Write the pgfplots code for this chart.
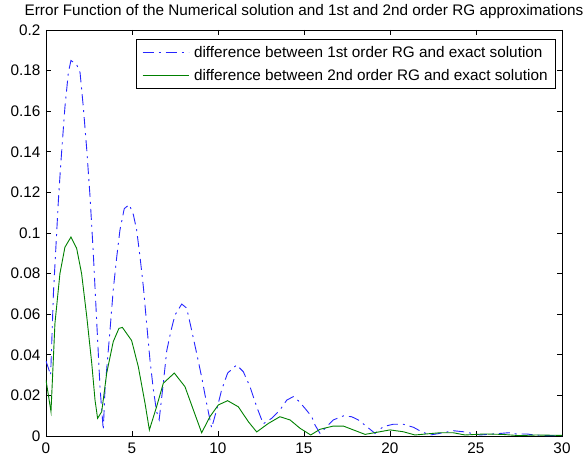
\documentclass[border=0pt]{standalone}
\usepackage{fontspec}
\setmainfont{Liberation Sans}
\usepackage{pgfplots}
\pgfplotsset{compat=1.18}
\definecolor{mblue}{rgb}{0.15,0.15,1}
\definecolor{mgreen}{rgb}{0,0.5,0}
\begin{document}
\begin{tikzpicture}[font=\fontsize{15.3}{18}\selectfont]
\path[use as bounding box] (-46pt,-25pt) rectangle (540pt,436pt);
\begin{axis}[
  scale only axis, width=516pt, height=406pt,
  xmin=0, xmax=30, ymin=0, ymax=0.2,
  xtick={0,5,10,15,20,25,30},
  xticklabels={0,5,10,15,20,25,30},
  ytick={0,0.02,0.04,0.06,0.08,0.1,0.12,0.14,0.16,0.18,0.2},
  yticklabels={0,0.02,0.04,0.06,0.08,0.1,0.12,0.14,0.16,0.18,0.2},
  tick align=inside, major tick length=5pt,
  axis line style={line width=0.8pt},
  every tick/.style={black, line width=0.8pt},
  yticklabel style={xshift=-2pt},
  xticklabel style={yshift=-3pt},
  title={Error Function of the Numerical solution and 1st and 2nd order RG approximations},
  title style={at={(0.5,1)}, anchor=base, yshift=8pt, inner sep=0pt},
  legend cell align=left,
  legend image code/.code={\draw[#1] (0pt,0pt) -- (46pt,0pt);},
  legend style={at={(1,1)}, anchor=north east, xshift=-6pt, yshift=-9pt,
    draw=black, line width=0.8pt, inner xsep=6pt, inner ysep=5pt,
    column sep=3pt, row sep=6pt},
]
\addplot[mblue, line width=0.9pt, dash pattern=on 11pt off 5pt on 2pt off 5pt] coordinates {
(0,0.037) (0.27,0.030) (0.43,0.070) (0.72,0.116) (0.85,0.133) (0.97,0.147) (1.1,0.162) (1.3,0.179) (1.45,0.185) (1.78,0.183) (1.98,0.179) (2.17,0.162) (2.37,0.141) (2.56,0.118) (2.75,0.090) (2.95,0.056) (3.14,0.024) (3.33,0.003)
(3.43,0.023) (3.72,0.052) (3.91,0.072) (4.11,0.088) (4.3,0.1015) (4.55,0.112) (4.84,0.114) (5.08,0.109) (5.27,0.1015) (5.47,0.088) (5.66,0.0735) (5.85,0.0555) (6.05,0.037) (6.24,0.023) (6.43,0.012) (6.58,0.008)
(6.82,0.026) (7.02,0.042) (7.27,0.052) (7.5,0.0596) (7.89,0.065) (8.18,0.063) (8.47,0.052) (8.76,0.0407) (9.05,0.029) (9.34,0.016) (9.63,0.004)
(9.92,0.0128) (10.21,0.0227) (10.56,0.031) (11.08,0.035) (11.47,0.0317) (11.86,0.0243) (12.25,0.0144) (12.63,0.006)
(13.12,0.0087) (13.6,0.0128) (14.0,0.0177) (14.38,0.0194) (14.67,0.0174) (15.06,0.0136) (15.45,0.0095) (15.64,0.0054) (15.93,0.0013)
(16.32,0.0046) (16.7,0.0079) (17.29,0.0099) (17.77,0.0095) (18.16,0.0079) (18.65,0.0046) (19.13,0.0013)
(19.61,0.0046) (20.19,0.0058) (20.77,0.0058) (21.36,0.0043) (21.84,0.0021) (22.33,0.0005)
(22.9,0.0013) (23.68,0.0026) (24.26,0.0021) (24.75,0.0013) (25.23,0.0005)
(26.0,0.001) (26.9,0.0016) (27.36,0.001) (27.95,0.001) (28.4,0.0005) (29.0,0.0002) (30,0.0001)
};
\addlegendentry{difference between 1st order RG and exact solution}
\addplot[mgreen, line width=0.9pt] coordinates {
(0,0.0276) (0.29,0.012) (0.52,0.0555) (0.81,0.080) (1.1,0.093) (1.45,0.098) (1.78,0.0925) (2.07,0.080) (2.37,0.0588) (2.66,0.0358) (2.85,0.0177) (3.0,0.0087) (3.24,0.012)
(3.53,0.031) (3.91,0.0465) (4.24,0.053) (4.44,0.0535) (4.98,0.047) (5.37,0.034) (5.76,0.016) (6.01,0.003)
(6.43,0.0144) (6.82,0.026) (7.46,0.031) (8.08,0.0243) (8.57,0.0128) (9.05,0.0016)
(9.53,0.0095) (10.02,0.0153) (10.56,0.0174) (11.18,0.0144) (11.77,0.007) (12.25,0.002)
(12.93,0.0062) (13.6,0.0095) (14.19,0.0079) (14.77,0.0038) (15.39,0.0005)
(15.93,0.0033) (16.7,0.0049) (17.29,0.0049) (17.87,0.003) (18.55,0.0008)
(19.22,0.0018) (20.0,0.003) (20.77,0.0021) (21.45,0.0005)
(22.1,0.001) (22.9,0.0016) (23.68,0.0016) (24.36,0.0005) (25.5,0.001) (26.5,0.0008) (27.5,0.0002) (28.5,0.0005) (30,0.0003)
};
\addlegendentry{difference between 2nd order RG and exact solution}
\end{axis}
\end{tikzpicture}
\end{document}
